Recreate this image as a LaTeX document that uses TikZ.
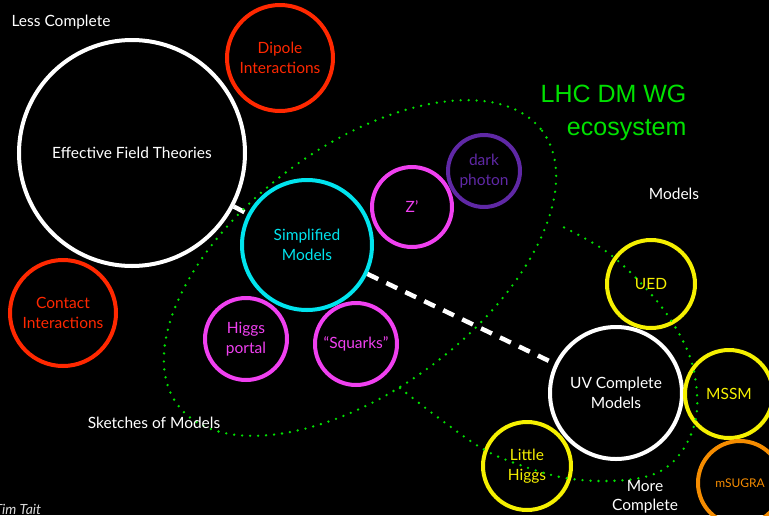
\documentclass[tikz,border=0pt]{standalone}
\usepackage{fontspec}
\setmainfont{Lato}
\newfontfamily\helvfont{Liberation Sans}

\definecolor{contactred}{RGB}{255,40,0}
\definecolor{simpcyan}{RGB}{0,228,238}
\definecolor{smmagenta}{RGB}{240,64,240}
\definecolor{photonpurple}{RGB}{95,40,165}
\definecolor{uvyellow}{RGB}{245,240,0}
\definecolor{sugraorange}{RGB}{245,140,0}
\definecolor{wggreen}{RGB}{0,225,0}

\begin{document}
\begin{tikzpicture}[x=1pt, y=-1pt,
    bubble/.style={circle, draw=#1, text=#1, line width=4pt, align=center,
        inner sep=0pt, font=\fontsize{15.5}{20}\selectfont},
    caption/.style={text=white, font=\fontsize{15.5}{18}\selectfont, align=center},
    linkline/.style={white, line width=4.5pt, dash pattern=on 12pt off 9pt},
    dotline/.style={wggreen, line width=2.6pt, line cap=round, dash pattern=on 0pt off 8pt}]
    \fill[black] (0,0) rectangle (769,515);
    \useasboundingbox (0,0) rectangle (769,515);

    % Less complete side
    \node[bubble=white, minimum size=226pt] (eft) at (132,153) {Effective Field Theories};
    \node[bubble=contactred, minimum size=106pt] (dipole) at (280,58) {Dipole\\Interactions};
    \node[bubble=contactred, minimum size=106pt] (contact) at (63,313) {Contact\\Interactions};

    % Simplified models and friends
    \node[bubble=simpcyan, minimum size=130pt] (simp) at (307,245) {Simplified\\Models};
    \node[bubble=smmagenta, minimum size=80pt] (zprime) at (412,207) {Z'};
    \node[bubble=photonpurple, minimum size=72pt] (photon) at (484,171) {dark\\photon};
    \node[bubble=smmagenta, minimum size=82pt] (hportal) at (246,339) {Higgs\\portal};
    \node[bubble=smmagenta, minimum size=82pt] (squarks) at (356,344) {``Squarks''};

    % UV complete side
    \node[bubble=white, minimum size=132pt] (uv) at (616,393) {UV Complete\\Models};
    \node[bubble=uvyellow, minimum size=88pt] (ued) at (651,284) {UED};
    \node[bubble=uvyellow, minimum size=88pt] (mssm) at (729,394) {MSSM};
    \node[bubble=uvyellow, minimum size=88pt] (lhiggs) at (527,466) {Little\\Higgs};
    \node[bubble=sugraorange, minimum size=84pt, font=\fontsize{12}{14}\selectfont] (msugra) at (740,483) {mSUGRA};

    % links between the levels
    \draw[linkline] (eft) -- (simp);
    \draw[linkline] (simp) -- (uv);

    % dotted regions
    \draw[dotline, rotate around={37:(360,268)}] (360,268) ellipse [x radius=228, y radius=121];
    \draw[dotline] plot[smooth, tension=0.6] coordinates {
        (400,388) (440,419) (483,449) (520,465) (560,477) (600,481) (640,478)
        (667,467) (687,443) (697,410) (693,367) (677,330) (650,293) (607,252) (557,224)
    };

    % labels
    \node[caption, anchor=west] (less) at (8,22) {Less Complete};
    \node[caption] (models) at (674,194) {Models};
    \node[caption] (sketches) at (154,423) {Sketches of Models};
    \node[caption, font=\fontsize{15.5}{19}\selectfont] (more) at (645,497) {More\\Complete};
    \node[text=wggreen, font=\helvfont\fontsize{25}{33}\selectfont, align=right, anchor=east] (wg) at (690,113) {LHC DM WG\\ecosystem};
    \node[text=white!85!black, font=\fontsize{14}{16}\selectfont\itshape, anchor=north west] (author) at (-9,501) {Tim Tait};
\end{tikzpicture}
\end{document}
